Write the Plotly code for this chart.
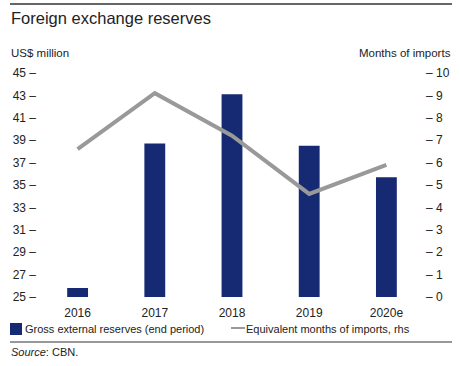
import plotly.graph_objects as go

years = ["2016", "2017", "2018", "2019", "2020e"]
reserves = [25.8, 38.7, 43.1, 38.5, 35.7]
months_imports = [6.6, 9.1, 7.2, 4.6, 5.9]
left_ticks = [25, 27, 29, 31, 33, 35, 37, 39, 41, 43, 45]
right_ticks = [0, 1, 2, 3, 4, 5, 6, 7, 8, 9, 10]

FONT = "Liberation Sans, Arial, sans-serif"
NAVY = "#152a72"
GREY = "#999999"
TXT = "#222222"

L, R, T, B = 39, 425, 73, 297
W, H = R - L, B - T


def px(x):
    return (x - L) / W


def py(y):
    return (B - y) / H


fig = go.Figure()
fig.add_trace(go.Bar(
    x=years, y=reserves, name="Gross external reserves (end period)",
    marker=dict(color=NAVY, line=dict(width=0)), width=0.27, base=0,
    yaxis="y", showlegend=False))
fig.add_trace(go.Scatter(
    x=years, y=months_imports, name="Equivalent months of imports, rhs",
    mode="lines", line=dict(color=GREY, width=4), yaxis="y2", showlegend=False))

fig.update_layout(
    width=460, height=366,
    margin=dict(l=L, r=460 - R, t=T, b=366 - B, autoexpand=False),
    paper_bgcolor="white", plot_bgcolor="white",
    font=dict(family=FONT, size=12, color=TXT),
    showlegend=False,
    xaxis=dict(type="category", range=[-0.5, 4.5], showgrid=False, showline=False,
               ticks="", tickfont=dict(size=12), zeroline=False, automargin=False,
               ticklabelstandoff=7),
    yaxis=dict(range=[25, 45], tickvals=left_ticks,
               ticktext=[f"{v} \u2013" for v in left_ticks],
               showgrid=False, showline=False, zeroline=False, ticks="",
               tickfont=dict(size=12), automargin=False, ticklabelstandoff=2),
    yaxis2=dict(range=[0, 10], overlaying="y", side="right", tickvals=right_ticks,
                ticktext=[f"\u2013 {v}" for v in right_ticks],
                showgrid=False, showline=False, zeroline=False, ticks="",
                tickfont=dict(size=12), automargin=False),
    shapes=[
        dict(type="line", xref="paper", yref="paper", x0=px(10), x1=px(452),
             y0=py(4), y1=py(4), line=dict(color="#333333", width=1.5)),
        dict(type="line", xref="paper", yref="paper", x0=px(10), x1=px(452),
             y0=py(342), y1=py(342), line=dict(color="#333333", width=1)),
        # legend keys
        dict(type="rect", xref="paper", yref="paper", x0=px(10), x1=px(22),
             y0=py(335), y1=py(323), fillcolor=NAVY, line=dict(width=0)),
        dict(type="line", xref="paper", yref="paper", x0=px(231), x1=px(245),
             y0=py(328), y1=py(328), line=dict(color=GREY, width=2)),
    ],
    annotations=[
        dict(text="Foreign exchange reserves", xref="paper", yref="paper",
             x=px(9), y=py(18), xanchor="left", yanchor="middle", showarrow=False,
             font=dict(size=16.5, color=TXT)),
        dict(text="US$ million", xref="paper", yref="paper",
             x=px(9), y=py(53), xanchor="left", yanchor="middle", showarrow=False,
             font=dict(size=11.5, color=TXT)),
        dict(text="Months of imports", xref="paper", yref="paper",
             x=px(453), y=py(53), xanchor="right", yanchor="middle", showarrow=False,
             font=dict(size=11.5, color=TXT)),
        dict(text="Gross external reserves (end period)", xref="paper", yref="paper",
             x=px(23), y=py(329), xanchor="left", yanchor="middle", showarrow=False,
             font=dict(size=11, color=TXT)),
        dict(text="Equivalent months of imports, rhs", xref="paper", yref="paper",
             x=px(244), y=py(329), xanchor="left", yanchor="middle", showarrow=False,
             font=dict(size=11, color=TXT)),
        dict(text="<i>Source</i>: CBN.", xref="paper", yref="paper",
             x=px(9), y=py(352), xanchor="left", yanchor="middle", showarrow=False,
             font=dict(size=11, color=TXT)),
    ],
)

fig.write_html("out.html", config={"displayModeBar": False},
               post_script="document.body.style.margin='0';document.body.style.overflow='hidden';")
